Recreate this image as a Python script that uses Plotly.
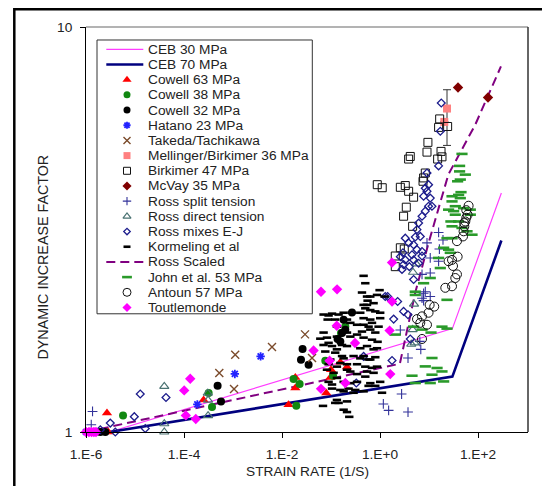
import plotly.graph_objects as go

# ---------------- data ----------------
ceb_x = [3e-6, 30, 300]
ceb30_y = [1.0, 1.80, 3.89]
ceb70_y = [1.0, 1.37, 2.97]
ross_scaled_x = [1e-6, 2.54, 5.25, 9.8, 24.8, 88, 294]
ross_scaled_y = [1.0, 1.474, 2.21, 2.93, 4.32, 5.74, 7.99]

cowell63_x = [2.68e-6, 2.85e-6, 2.51e-4, 1.36e-2, 1.87e-2, 1.87e-2, 8.0e-2, 0.1, 0.155, 0.212, 0.097]
cowell63_y = [1.114, 1.0, 1.20, 1.168, 1.284, 1.364, 1.248, 1.425, 1.486, 1.447, 1.364]

cowell38_x = [1.55e-6, 5.7e-6, 3.18e-4, 3.73e-4, 1.72e-2, 2.29e-2, 1.96e-2, 7.65e-2, 0.11, 0.16, 0.196]
cowell38_y = [1.0, 1.099, 1.248, 1.153, 1.352, 1.314, 1.161, 1.50, 1.377, 1.756, 1.823]

cowell32_x = [1.96e-6, 2.48e-6, 4.85e-4, 5.69e-4, 2.63e-2, 2.44e-2, 3.49e-2, 0.268, 0.168, 0.136, 0.196, 0.181, 0.155]
cowell32_y = [1.0, 1.0, 1.301, 1.19, 1.603, 1.508, 1.466, 1.974, 1.756, 1.697, 1.789, 1.894, 1.674]

hatano_x = [1e-6, 1.87e-4, 1.09e-3, 3.66e-3]
hatano_y = [1.0, 1.17, 1.391, 1.537]

takeda_x = [5.25e-4, 1.05e-3, 1.11e-3, 6.25e-3, 2.95e-2, 4.1e-2]
takeda_y = [1.398, 1.277, 1.552, 1.621, 1.742, 1.523]

mellinger_x = [23.3, 20.5]
mellinger_y = [6.29, 5.83]
mellinger_err_plus = [0.71, 0.0]
mellinger_err_minus = [1.19, 0.0]

birkimer_x = [16.5, 15.7, 24.0, 9.5, 9.1, 4.15, 3.84, 17.6, 18.4, 15.0, 8.4, 7.76, 7.55,
              2.6, 3.28, 3.84, 4.85, 3.44, 3.03, 4.63, 2.6, 3.13, 2.05, 2.05, 0.88, 1.11]
birkimer_y = [5.93, 5.65, 5.68, 5.19, 4.91, 4.79, 4.72, 4.93, 4.78, 4.72, 4.36, 4.24, 4.16,
              4.02, 4.06, 3.93, 3.80, 3.59, 3.41, 3.22, 2.85, 2.83, 2.56, 2.72, 4.08, 4.01]

mcvay_x = [39.1, 160]
mcvay_y = [7.09, 6.70]

ross_split_x = [1.36e-6, 1.28e-6, 1.17, 1.5, 3.73, 2.76, 3.73, 6.8, 6.5, 2.6, 7.2, 10.6, 7.76,
                15.7, 19.3, 9.1, 16.3, 10.6, 15.7, 7.2, 10.6, 8.4, 7.76]
ross_split_y = [1.124, 1.042, 1.173, 1.131, 1.12, 1.241, 1.523, 1.60, 1.674, 1.786, 2.14, 2.16, 2.20,
                3.11, 2.98, 2.93, 2.83, 2.69, 2.64, 2.45, 2.47, 2.22, 2.11]

ross_direct_x = [3.96e-5, 3.96e-5, 3.96e-5, 3.06e-4, 3.1e-4, 3.1e-4, 4.71, 5.5, 4.95, 4.63, 5.08, 4.35]
ross_direct_y = [1.296, 1.048, 1.0, 1.247, 1.198, 1.097, 2.48, 2.60, 2.07, 1.79, 1.659, 1.647]

ross_mixes_x = [1.96e-6, 3.13e-6, 3.96e-6, 9.68e-6, 1.28e-5, 1.62e-5, 4.29e-5,
                0.328, 0.463, 1.43, 2.29, 1.9, 3.03, 3.73, 4.15, 1.76, 2.81, 4.85, 6.14, 2.94, 4.5,
                15.7, 17.8, 17.0, 9.1, 9.8, 9.1, 7.76, 10.6, 9.8, 8.4, 7.2, 6.14, 5.69, 6.64, 5.25,
                3.28, 3.84, 4.85, 5.69, 7.2, 2.6, 3.28, 4.85, 3.03, 3.97, 7.2, 1.28, 11.5, 8.4]
ross_mixes_y = [1.013, 1.052, 1.0, 1.091, 1.241, 1.02, 1.217,
                1.321, 1.537, 2.16, 2.10, 1.90, 1.985, 1.948, 1.697, 1.502, 2.52, 2.38, 2.61, 2.77, 2.74,
                4.54, 6.49, 5.53, 4.36, 4.08, 3.93, 3.82, 3.78, 3.61, 3.51, 3.41, 3.28, 3.16, 3.04, 3.03,
                3.01, 2.93, 2.90, 2.82, 2.79, 2.71, 2.66, 2.66, 2.59, 2.56, 2.72, 2.16, 3.61, 4.0]

kormeling_x = [0.463, 0.501, 0.429, 0.543, 0.981, 1.24, 0.558, 0.463, 0.740, 0.501, 0.634, 0.802,
               0.268, 0.396, 0.105, 0.143, 0.463, 0.634, 1.01, 0.0853, 0.122, 0.248, 0.340, 0.463,
               0.585, 0.429, 0.634, 0.802, 0.0605, 0.0828, 0.248, 0.340, 0.463, 0.687, 0.893, 0.0706,
               0.105, 0.168, 0.212, 0.396, 0.543, 0.740, 0.0765, 0.122, 0.168, 0.289, 0.396, 0.585,
               0.802, 0.0968, 0.155, 0.212, 0.340, 0.501, 0.687, 0.0828, 0.113, 0.248, 0.340, 0.501,
               0.132, 0.181, 0.248, 0.0893, 0.340, 0.634, 0.802, 0.105, 0.155, 0.229, 0.313, 0.463,
               1.10, 0.132, 0.212, 0.0687, 0.143, 0.212, 0.236, 0.181, 0.0706, 0.0893, 0.181, 0.212,
               0.132, 0.0706, 0.132, 0.212, 0.0893, 0.132, 0.181, 0.0893, 0.132, 0.212, 0.105, 0.181,
               0.289, 0.122, 0.634, 0.868, 0.543, 1.01, 0.687, 0.936, 0.868, 0.463, 0.634, 0.868,
               0.543, 0.740, 1.01, 0.585]
kormeling_y = [2.43, 2.33, 2.21, 2.16, 2.24, 2.16, 2.11, 2.06, 2.08, 2.02, 2.0, 1.985,
               1.97, 1.97, 1.96, 1.95, 1.91, 1.895, 1.91, 1.895, 1.895, 1.86, 1.84, 1.84,
               1.82, 1.77, 1.79, 1.76, 1.70, 1.71, 1.72, 1.74, 1.71, 1.69, 1.67, 1.64,
               1.63, 1.64, 1.63, 1.61, 1.63, 1.60, 1.58, 1.57, 1.54, 1.54, 1.52, 1.51,
               1.53, 1.51, 1.48, 1.47, 1.47, 1.45, 1.44, 1.425, 1.40, 1.41, 1.39, 1.37,
               1.36, 1.33, 1.32, 1.33, 1.33, 1.32, 1.30, 1.28, 1.27, 1.28, 1.27, 1.26,
               1.25, 1.20, 1.19, 1.16, 1.18, 1.12, 1.09, 1.135, 1.95, 1.94, 1.97, 1.895,
               1.82, 1.76, 1.72, 1.76, 1.66, 1.60, 1.52, 1.47, 1.45, 1.425, 1.31, 1.26,
               1.25, 1.18, 2.16, 2.18, 2.06, 1.97, 1.86, 1.82, 1.61, 1.54, 1.51, 1.45,
               1.41, 1.40, 1.33, 1.30]

john_x = [42.1, 42.1, 55.1, 38.4, 47.1, 43.5, 45.0, 29.5, 40.2, 43.5, 29.5, 34.4, 50.8, 25.1,
          31.8, 69.7, 34.4, 69.7, 28.0, 40.2, 29.5, 47.1, 59.7, 75.5, 23.3, 29.5, 19.9, 25.1,
          27.2, 15.7, 17.0, 10.6, 7.76, 5.25, 5.25, 23.3, 2.05, 4.85, 7.2, 11.0, 18.4, 23.3,
          11.5, 8.4, 14.6, 18.4, 4.5, 11.5, 10.6, 5.25, 19.9]
john_y = [4.54, 4.40, 4.32, 4.16, 4.86, 4.20, 3.91, 3.82, 3.85, 3.78, 3.71, 3.61, 3.57, 3.54,
          3.51, 3.54, 3.44, 3.44, 3.31, 3.31, 3.22, 3.19, 3.13, 3.07, 3.01, 3.01, 2.85, 2.82,
          2.77, 2.69, 2.54, 2.40, 2.33, 2.22, 2.18, 2.12, 1.74, 1.82, 1.79, 1.76, 1.82, 1.80,
          1.523, 1.452, 1.439, 1.411, 1.377, 1.385, 1.321, 1.321, 1.333]

antoun_x = [64.3, 57.7, 61.4, 55.1, 52.5, 50.8, 49.4, 37.2, 38.4, 29.5, 25.1, 30.9, 37.2, 34.4,
            29.5, 21.5, 10.3, 12.8, 9.8, 7.2, 6.64, 9.1, 5.69, 7.2, 52.5, 57.7]
antoun_y = [3.62, 3.53, 3.44, 3.31, 3.22, 3.13, 3.04, 2.96, 2.71, 2.66, 2.64, 2.57, 2.45, 2.40,
            2.29, 2.27, 2.06, 2.04, 1.97, 1.93, 1.86, 1.84, 1.90, 1.697, 3.28, 3.38]

toutlemonde_x = [1.0e-6, 1.15e-6, 1.3e-6, 1.45e-6, 1.6e-6, 1.34e-4, 1.01e-4, 1.09e-4, 1.74e-4,
                 4.41e-2, 6.25e-2, 9.36e-2, 0.131, 0.309, 0.196, 6.25e-2, 0.133, 1.76, 1.76, 1.57, 1.62]
toutlemonde_y = [1.0, 1.0, 1.0, 1.0, 1.0, 1.354, 1.267, 1.099, 1.077,
                 1.59, 1.278, 1.50, 1.83, 1.659, 1.321, 2.22, 2.25, 2.62, 2.10, 1.78, 1.39]

x_tickvals = [1e-6, 1e-4, 1e-2, 1, 100]
x_ticktext = ["1.E-6", "1.E-4", "1.E-2", "1.E+0", "1.E+2"]
y_tickvals = [1, 10]
y_ticktext = ["1", "10"]

# ---------------- styles ----------------
FONT = "Liberation Sans, Arial, sans-serif"
TXT = "#222222"
FS = 13.7

series = [
    ("CEB 30 MPa", "line", ceb_x, ceb30_y, dict(color="#ff3cff", width=1.2, dash="solid")),
    ("CEB 70 MPa", "line", ceb_x, ceb70_y, dict(color="#00007f", width=2.6, dash="solid")),
    ("Cowell 63 MPa", "mark", cowell63_x, cowell63_y, dict(symbol="triangle-up", color="#ff0000", size=9, lw=0)),
    ("Cowell 38 MPa", "mark", cowell38_x, cowell38_y, dict(symbol="circle", color="#118811", size=8, lw=0)),
    ("Cowell 32 MPa", "mark", cowell32_x, cowell32_y, dict(symbol="circle", color="#000000", size=8, lw=0)),
    ("Hatano 23 MPa", "mark", hatano_x, hatano_y, dict(symbol="asterisk-open", color="#2222ff", size=7, lw=1.8)),
    ("Takeda/Tachikawa", "mark", takeda_x, takeda_y, dict(symbol="x-thin-open", color="#7a4a2a", size=8, lw=1.4)),
    ("Mellinger/Birkimer 36 MPa", "mark", mellinger_x, mellinger_y, dict(symbol="square", color="#ff8080", size=8, lw=0)),
    ("Birkimer 47 MPa", "mark", birkimer_x, birkimer_y, dict(symbol="square-open", color="#111111", size=8, lw=1.0)),
    ("McVay 35 MPa", "mark", mcvay_x, mcvay_y, dict(symbol="diamond", color="#800000", size=8, lw=0)),
    ("Ross split tension", "mark", ross_split_x, ross_split_y, dict(symbol="cross-thin-open", color="#33339a", size=7, lw=1.1)),
    ("Ross direct tension", "mark", ross_direct_x, ross_direct_y, dict(symbol="triangle-up-open", color="#4a7272", size=8, lw=1.2)),
    ("Ross mixes E-J", "mark", ross_mixes_x, ross_mixes_y, dict(symbol="diamond-open", color="#1c1c8c", size=6, lw=1.3)),
    ("Kormeling et al", "mark", kormeling_x, kormeling_y, dict(symbol="line-ew-open", color="#000000", size=6, lw=2.6)),
    ("Ross Scaled", "line", ross_scaled_x, ross_scaled_y, dict(color="#800080", width=2.0, dash="9px,5px")),
    ("John et al. 53 MPa", "mark", john_x, john_y, dict(symbol="line-ew-open", color="#2a9a2a", size=8, lw=2.6)),
    ("Antoun 57 MPa", "mark", antoun_x, antoun_y, dict(symbol="circle-open", color="#111111", size=9, lw=1.0)),
    ("Toutlemonde", "mark", toutlemonde_x, toutlemonde_y, dict(symbol="diamond", color="#ff00ff", size=8, lw=0)),
]

fig = go.Figure()

for name, kind, xs, ys, st in series:
    if kind == "line":
        fig.add_trace(go.Scatter(x=xs, y=ys, mode="lines", name=name, showlegend=False,
                                 line=dict(color=st["color"], width=st["width"], dash=st["dash"])))

for name, kind, xs, ys, st in series:
    if kind == "mark":
        kw = {}
        if name.startswith("Mellinger"):
            kw["error_y"] = dict(type="data", symmetric=False, array=mellinger_err_plus,
                                 arrayminus=mellinger_err_minus, color="#333333", thickness=1, width=4)
        fig.add_trace(go.Scatter(
            x=xs, y=ys, mode="markers", name=name, showlegend=False, cliponaxis=False,
            marker=dict(symbol=st["symbol"], color=st["color"], size=st["size"],
                        line=dict(color=st["color"], width=st["lw"])), **kw))

# ---------------- layout geometry (screen pixels; page body has an 8px margin) ----------------
BODY = 8
FIG_W, FIG_H = 550 - BODY, 486 - BODY
PL, PR, PT, PB = 85.7, 527.7, 27.0, 432.3
W = PR - PL
H = PB - PT
LEG_BOX = (96.7, 40.0, 312.0, 314.0)
LEG_Y0, LEG_DY = 49.3, 15.2
LEG_S0, LEG_S1, LEG_MX, LEG_TX = 106.0, 143.0, 126.7, 146.0

shapes = []
annotations = []
shapes.append(dict(type="rect", xref="x2", yref="y2", x0=LEG_BOX[0], y0=LEG_BOX[1], x1=LEG_BOX[2], y1=LEG_BOX[3],
                   line=dict(color="#333333", width=1), fillcolor="white", layer="below"))
for i, (name, kind, xs, ys, st) in enumerate(series):
    yy = LEG_Y0 + i * LEG_DY
    if kind == "line":
        shapes.append(dict(type="line", xref="x2", yref="y2", x0=LEG_S0, x1=LEG_S1, y0=yy, y1=yy,
                           line=dict(color=st["color"], width=st["width"], dash=st["dash"])))
    else:
        fig.add_trace(go.Scatter(
            x=[LEG_MX], y=[yy], xaxis="x2", yaxis="y2", mode="markers", showlegend=False,
            hoverinfo="skip", cliponaxis=False,
            marker=dict(symbol=st["symbol"], color=st["color"], size=st["size"] - 1,
                        line=dict(color=st["color"], width=st["lw"]))))
    annotations.append(dict(xref="x2", yref="y2", x=LEG_TX, y=yy, text=name, showarrow=False,
                            xanchor="left", yanchor="middle", font=dict(family=FONT, size=FS, color=TXT)))

shapes.append(dict(type="line", xref="paper", yref="paper", x0=0, x1=1, y0=1, y1=1,
                   line=dict(color="#9a9a9a", width=1.5)))
shapes.append(dict(type="line", xref="paper", yref="paper", x0=1, x1=1, y0=0, y1=1,
                   line=dict(color="#333333", width=1.5)))
shapes.append(dict(type="rect", xref="paper", yref="paper",
                   x0=(14 - PL) / W, x1=(570 - PL) / W, y0=(PB - 9.2) / H, y1=(PB - 520) / H,
                   line=dict(color="black", width=2.5), fillcolor="rgba(0,0,0,0)"))

annotations.append(dict(xref="paper", yref="paper", x=0.5, y=0, yshift=-39.5, text="STRAIN RATE (1/S)",
                        showarrow=False, xanchor="center", yanchor="middle",
                        font=dict(family=FONT, size=FS, color=TXT)))
annotations.append(dict(xref="paper", yref="paper", x=0, y=0.5, xshift=-44, yshift=-28,
                        text="DYNAMIC INCREASE FACTOR",
                        showarrow=False, xanchor="center", yanchor="middle", textangle=-90,
                        font=dict(family=FONT, size=14.3, color=TXT)))

fig.update_layout(
    width=FIG_W, height=FIG_H,
    margin=dict(l=PL - BODY, r=(FIG_W + BODY) - PR, t=PT - BODY, b=(FIG_H + BODY) - PB, pad=0),
    paper_bgcolor="white", plot_bgcolor="white",
    font=dict(family=FONT, size=FS, color=TXT),
    showlegend=False,
    xaxis=dict(type="log", range=[-6, -6 + W / 49.0], tickvals=x_tickvals, ticktext=x_ticktext,
               ticks="outside", ticklen=5, tickcolor="black", showline=True, linecolor="black",
               linewidth=1, showgrid=False, zeroline=False, ticklabelstandoff=5,
               tickfont=dict(family=FONT, size=FS, color=TXT)),
    yaxis=dict(type="log", range=[0, 1], tickvals=y_tickvals, ticktext=y_ticktext,
               ticks="outside", ticklen=5, tickcolor="black", showline=True, linecolor="black",
               linewidth=1, showgrid=False, zeroline=False, ticklabelstandoff=5,
               tickfont=dict(family=FONT, size=FS, color=TXT)),
    xaxis2=dict(overlaying="x", range=[PL, PR], visible=False, anchor="y2", fixedrange=True),
    yaxis2=dict(overlaying="y", range=[PB, PT], visible=False, anchor="x2", fixedrange=True),
    shapes=shapes,
    annotations=annotations,
)

fig.write_html("out.html")
